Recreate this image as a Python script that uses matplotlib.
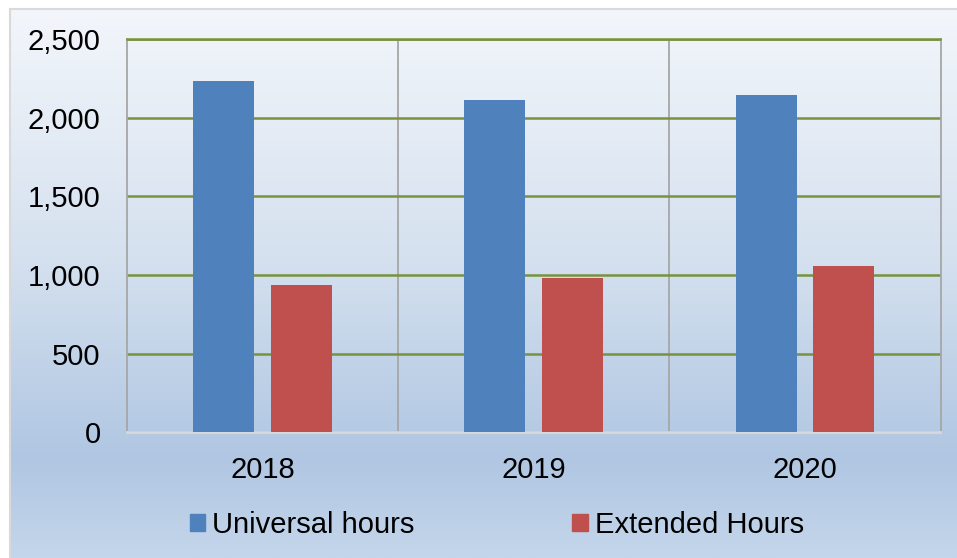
import numpy as np
import matplotlib

matplotlib.use("Agg")
import matplotlib.pyplot as plt  # noqa: E402
from matplotlib.colors import LinearSegmentedColormap  # noqa: E402
from matplotlib.patches import Patch  # noqa: E402

years = ["2018", "2019", "2020"]
universal_hours = [2235, 2112, 2142]
extended_hours = [938, 979, 1055]
y_ticks = [0, 500, 1000, 1500, 2000, 2500]
y_tick_labels = ["0", "500", "1,000", "1,500", "2,000", "2,500"]

BLUE = "#4F81BD"
RED = "#C0504D"
GREEN = "#77933C"
GRAY = "#A6A6A6"

plt.rcParams["font.family"] = ["Liberation Sans", "DejaVu Sans"]

fig = plt.figure(figsize=(9.57, 5.58), dpi=100)

# chart-area background with vertical gradient
bg = fig.add_axes([10 / 957, 0, 1 - 10 / 957, 1 - 9 / 558], zorder=0)
grad_cmap = LinearSegmentedColormap.from_list(
    "bg",
    [(0.0, "#F3F6FB"), (0.45, "#D5E1EF"), (0.82, "#B0C6E2"), (1.0, "#C4D6EB")],
)
bg.imshow(np.linspace(0, 1, 256).reshape(-1, 1), aspect="auto", cmap=grad_cmap,
          extent=[0, 1, 0, 1], origin="upper")
bg.set_xticks([])
bg.set_yticks([])
for side in ("right", "bottom"):
    bg.spines[side].set_visible(False)
for side in ("left", "top"):
    bg.spines[side].set_color("#D9D9D9")
    bg.spines[side].set_linewidth(1.5)

ax = fig.add_axes([127 / 957, 1 - 432.3 / 558, (940.5 - 127) / 957, (432.3 - 39) / 558], zorder=1)
ax.patch.set_alpha(0)

x = np.arange(len(years))
width = 0.225
offset = 0.143
ax.bar(x - offset, universal_hours, width, color=BLUE, label="Universal hours", zorder=3)
ax.bar(x + offset, extended_hours, width, color=RED, label="Extended Hours", zorder=3)

ax.set_xlim(-0.5, len(years) - 0.5)
ax.set_ylim(0, 2500)
ax.set_yticks(y_ticks)
ax.set_yticklabels(y_tick_labels)
ax.set_xticks(x)
ax.set_xticklabels(years)
ax.set_xticks([0.5, 1.5], minor=True)
ax.tick_params(axis="both", which="both", length=0, labelsize=21)
ax.tick_params(axis="y", pad=19)
ax.tick_params(axis="x", pad=17)

ax.yaxis.grid(True, color=GREEN, linewidth=1.8, zorder=1)
ax.xaxis.grid(True, which="minor", color=GRAY, linewidth=1.3, zorder=1)
ax.xaxis.grid(False, which="major")

ax.spines["top"].set_color(GREEN)
ax.spines["top"].set_linewidth(1.8)
ax.spines["left"].set_color(GRAY)
ax.spines["left"].set_linewidth(1.3)
ax.spines["right"].set_color(GRAY)
ax.spines["right"].set_linewidth(1.3)
ax.spines["bottom"].set_color("#D9D9D9")
ax.spines["bottom"].set_linewidth(2)

handles = [Patch(color=BLUE), Patch(color=RED)]
fig.legend(handles, ["Universal hours", "Extended Hours"], loc="center",
           bbox_to_anchor=(497 / 957, 1 - 525 / 558), ncol=2, frameon=False,
           fontsize=21, handlelength=0.52, handleheight=0.52,
           handletextpad=0.25, columnspacing=5.4)

fig.savefig("out.png", dpi=100)
